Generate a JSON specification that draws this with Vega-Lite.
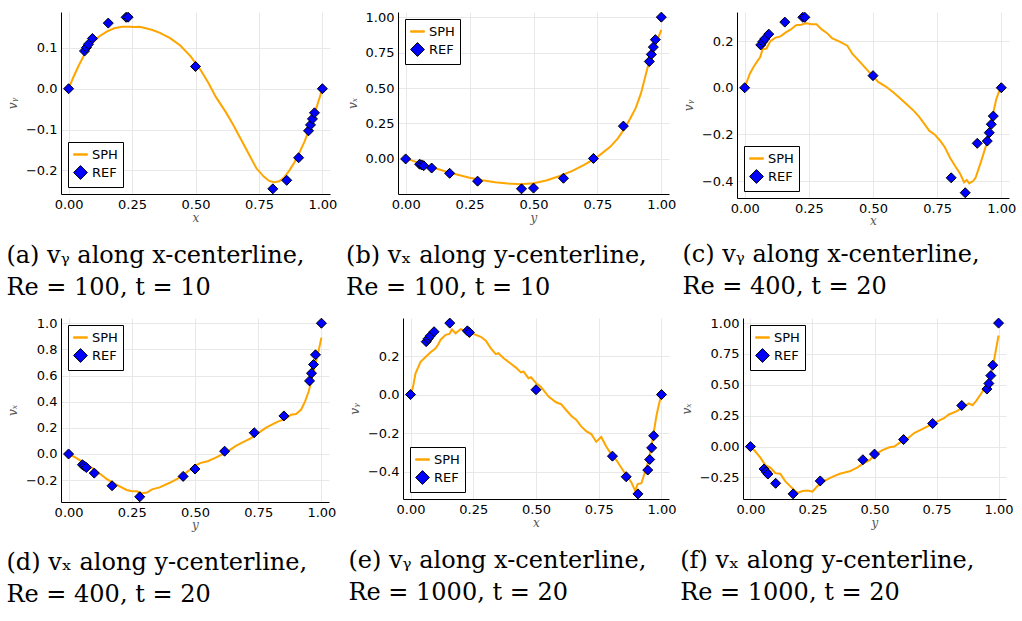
{
"$schema": "https://vega.github.io/schema/vega-lite/v6.json",
"padding": {"left": 6, "top": 10, "right": 5, "bottom": 5},
"autosize": {"type": "pad"},
"background": "white",
"datasets": {
"sph": [
{"p":"a","x":0,"v":0},{"p":"a","x":0.02,"v":0.03},{"p":"a","x":0.04,"v":0.057},{"p":"a","x":0.06,"v":0.081},{"p":"a","x":0.08,"v":0.1},{"p":"a","x":0.1,"v":0.116},{"p":"a","x":0.12,"v":0.128},{"p":"a","x":0.15,"v":0.14},{"p":"a","x":0.18,"v":0.148},{"p":"a","x":0.21,"v":0.152},{"p":"a","x":0.24,"v":0.152},{"p":"a","x":0.26,"v":0.151},{"p":"a","x":0.28,"v":0.152},{"p":"a","x":0.3,"v":0.149},{"p":"a","x":0.33,"v":0.144},{"p":"a","x":0.36,"v":0.137},{"p":"a","x":0.4,"v":0.124},{"p":"a","x":0.44,"v":0.106},{"p":"a","x":0.48,"v":0.08},{"p":"a","x":0.5,"v":0.063},{"p":"a","x":0.52,"v":0.046},{"p":"a","x":0.55,"v":0.015},{"p":"a","x":0.58,"v":-0.02},{"p":"a","x":0.62,"v":-0.058},{"p":"a","x":0.65,"v":-0.09},{"p":"a","x":0.68,"v":-0.125},{"p":"a","x":0.71,"v":-0.16},{"p":"a","x":0.74,"v":-0.195},{"p":"a","x":0.77,"v":-0.216},{"p":"a","x":0.79,"v":-0.226},{"p":"a","x":0.81,"v":-0.229},{"p":"a","x":0.83,"v":-0.227},{"p":"a","x":0.85,"v":-0.217},{"p":"a","x":0.87,"v":-0.2},{"p":"a","x":0.89,"v":-0.18},{"p":"a","x":0.91,"v":-0.156},{"p":"a","x":0.93,"v":-0.129},{"p":"a","x":0.95,"v":-0.096},{"p":"a","x":0.97,"v":-0.06},{"p":"a","x":0.98,"v":-0.04},{"p":"a","x":0.99,"v":-0.02},{"p":"a","x":1,"v":0},
{"p":"b","x":0,"v":0.005},{"p":"b","x":0.02,"v":-0.008},{"p":"b","x":0.05,"v":-0.028},{"p":"b","x":0.08,"v":-0.045},{"p":"b","x":0.1,"v":-0.056},{"p":"b","x":0.15,"v":-0.085},{"p":"b","x":0.2,"v":-0.11},{"p":"b","x":0.25,"v":-0.132},{"p":"b","x":0.3,"v":-0.15},{"p":"b","x":0.35,"v":-0.164},{"p":"b","x":0.4,"v":-0.174},{"p":"b","x":0.45,"v":-0.179},{"p":"b","x":0.5,"v":-0.172},{"p":"b","x":0.55,"v":-0.152},{"p":"b","x":0.6,"v":-0.122},{"p":"b","x":0.65,"v":-0.086},{"p":"b","x":0.7,"v":-0.04},{"p":"b","x":0.75,"v":0.015},{"p":"b","x":0.8,"v":0.085},{"p":"b","x":0.83,"v":0.145},{"p":"b","x":0.86,"v":0.225},{"p":"b","x":0.88,"v":0.29},{"p":"b","x":0.9,"v":0.36},{"p":"b","x":0.92,"v":0.46},{"p":"b","x":0.94,"v":0.6},{"p":"b","x":0.95,"v":0.67},{"p":"b","x":0.96,"v":0.72},{"p":"b","x":0.98,"v":0.82},{"p":"b","x":1,"v":0.91},
{"p":"c","x":0,"v":0},{"p":"c","x":0.01,"v":0.03},{"p":"c","x":0.02,"v":0.06},{"p":"c","x":0.035,"v":0.09},{"p":"c","x":0.05,"v":0.115},{"p":"c","x":0.06,"v":0.13},{"p":"c","x":0.07,"v":0.165},{"p":"c","x":0.085,"v":0.168},{"p":"c","x":0.1,"v":0.2},{"p":"c","x":0.12,"v":0.215},{"p":"c","x":0.14,"v":0.22},{"p":"c","x":0.16,"v":0.237},{"p":"c","x":0.18,"v":0.25},{"p":"c","x":0.2,"v":0.268},{"p":"c","x":0.22,"v":0.27},{"p":"c","x":0.24,"v":0.276},{"p":"c","x":0.26,"v":0.272},{"p":"c","x":0.28,"v":0.272},{"p":"c","x":0.3,"v":0.25},{"p":"c","x":0.32,"v":0.235},{"p":"c","x":0.34,"v":0.213},{"p":"c","x":0.37,"v":0.198},{"p":"c","x":0.4,"v":0.18},{"p":"c","x":0.42,"v":0.145},{"p":"c","x":0.45,"v":0.11},{"p":"c","x":0.47,"v":0.085},{"p":"c","x":0.5,"v":0.05},{"p":"c","x":0.52,"v":0.025},{"p":"c","x":0.55,"v":0.005},{"p":"c","x":0.58,"v":-0.02},{"p":"c","x":0.6,"v":-0.04},{"p":"c","x":0.63,"v":-0.07},{"p":"c","x":0.66,"v":-0.1},{"p":"c","x":0.68,"v":-0.125},{"p":"c","x":0.7,"v":-0.155},{"p":"c","x":0.72,"v":-0.185},{"p":"c","x":0.74,"v":-0.2},{"p":"c","x":0.76,"v":-0.225},{"p":"c","x":0.78,"v":-0.255},{"p":"c","x":0.8,"v":-0.3},{"p":"c","x":0.82,"v":-0.335},{"p":"c","x":0.84,"v":-0.37},{"p":"c","x":0.855,"v":-0.405},{"p":"c","x":0.865,"v":-0.395},{"p":"c","x":0.875,"v":-0.41},{"p":"c","x":0.89,"v":-0.4},{"p":"c","x":0.9,"v":-0.385},{"p":"c","x":0.92,"v":-0.32},{"p":"c","x":0.94,"v":-0.25},{"p":"c","x":0.96,"v":-0.15},{"p":"c","x":0.98,"v":-0.05},{"p":"c","x":0.99,"v":-0.02},{"p":"c","x":1,"v":0},
{"p":"d","x":0,"v":0},{"p":"d","x":0.03,"v":-0.03},{"p":"d","x":0.05,"v":-0.055},{"p":"d","x":0.08,"v":-0.09},{"p":"d","x":0.1,"v":-0.115},{"p":"d","x":0.13,"v":-0.16},{"p":"d","x":0.15,"v":-0.19},{"p":"d","x":0.18,"v":-0.225},{"p":"d","x":0.2,"v":-0.245},{"p":"d","x":0.23,"v":-0.275},{"p":"d","x":0.25,"v":-0.285},{"p":"d","x":0.27,"v":-0.285},{"p":"d","x":0.29,"v":-0.3},{"p":"d","x":0.31,"v":-0.295},{"p":"d","x":0.33,"v":-0.27},{"p":"d","x":0.36,"v":-0.255},{"p":"d","x":0.4,"v":-0.22},{"p":"d","x":0.43,"v":-0.19},{"p":"d","x":0.46,"v":-0.15},{"p":"d","x":0.48,"v":-0.12},{"p":"d","x":0.5,"v":-0.09},{"p":"d","x":0.52,"v":-0.07},{"p":"d","x":0.55,"v":-0.055},{"p":"d","x":0.58,"v":-0.03},{"p":"d","x":0.6,"v":-0.01},{"p":"d","x":0.63,"v":0.02},{"p":"d","x":0.66,"v":0.06},{"p":"d","x":0.69,"v":0.09},{"p":"d","x":0.7,"v":0.1},{"p":"d","x":0.72,"v":0.12},{"p":"d","x":0.75,"v":0.16},{"p":"d","x":0.78,"v":0.2},{"p":"d","x":0.8,"v":0.22},{"p":"d","x":0.83,"v":0.25},{"p":"d","x":0.86,"v":0.27},{"p":"d","x":0.88,"v":0.3},{"p":"d","x":0.9,"v":0.305},{"p":"d","x":0.92,"v":0.34},{"p":"d","x":0.935,"v":0.4},{"p":"d","x":0.95,"v":0.48},{"p":"d","x":0.96,"v":0.56},{"p":"d","x":0.97,"v":0.64},{"p":"d","x":0.98,"v":0.72},{"p":"d","x":0.99,"v":0.8},{"p":"d","x":1,"v":0.89},
{"p":"e","x":0,"v":0},{"p":"e","x":0.01,"v":0.04},{"p":"e","x":0.02,"v":0.11},{"p":"e","x":0.03,"v":0.14},{"p":"e","x":0.04,"v":0.17},{"p":"e","x":0.06,"v":0.195},{"p":"e","x":0.08,"v":0.22},{"p":"e","x":0.1,"v":0.24},{"p":"e","x":0.11,"v":0.26},{"p":"e","x":0.12,"v":0.285},{"p":"e","x":0.14,"v":0.31},{"p":"e","x":0.155,"v":0.315},{"p":"e","x":0.165,"v":0.338},{"p":"e","x":0.18,"v":0.318},{"p":"e","x":0.2,"v":0.34},{"p":"e","x":0.22,"v":0.33},{"p":"e","x":0.24,"v":0.32},{"p":"e","x":0.26,"v":0.31},{"p":"e","x":0.28,"v":0.3},{"p":"e","x":0.3,"v":0.28},{"p":"e","x":0.32,"v":0.24},{"p":"e","x":0.34,"v":0.21},{"p":"e","x":0.35,"v":0.215},{"p":"e","x":0.37,"v":0.19},{"p":"e","x":0.4,"v":0.16},{"p":"e","x":0.42,"v":0.14},{"p":"e","x":0.44,"v":0.115},{"p":"e","x":0.45,"v":0.12},{"p":"e","x":0.47,"v":0.085},{"p":"e","x":0.48,"v":0.09},{"p":"e","x":0.5,"v":0.06},{"p":"e","x":0.52,"v":0.04},{"p":"e","x":0.55,"v":-0.01},{"p":"e","x":0.58,"v":-0.04},{"p":"e","x":0.6,"v":-0.05},{"p":"e","x":0.62,"v":-0.08},{"p":"e","x":0.64,"v":-0.11},{"p":"e","x":0.66,"v":-0.13},{"p":"e","x":0.68,"v":-0.165},{"p":"e","x":0.7,"v":-0.19},{"p":"e","x":0.72,"v":-0.205},{"p":"e","x":0.74,"v":-0.245},{"p":"e","x":0.76,"v":-0.22},{"p":"e","x":0.78,"v":-0.27},{"p":"e","x":0.8,"v":-0.31},{"p":"e","x":0.82,"v":-0.34},{"p":"e","x":0.84,"v":-0.38},{"p":"e","x":0.86,"v":-0.42},{"p":"e","x":0.88,"v":-0.455},{"p":"e","x":0.895,"v":-0.5},{"p":"e","x":0.905,"v":-0.465},{"p":"e","x":0.92,"v":-0.46},{"p":"e","x":0.93,"v":-0.42},{"p":"e","x":0.94,"v":-0.38},{"p":"e","x":0.95,"v":-0.33},{"p":"e","x":0.96,"v":-0.27},{"p":"e","x":0.97,"v":-0.19},{"p":"e","x":0.98,"v":-0.11},{"p":"e","x":0.99,"v":-0.05},{"p":"e","x":1,"v":0},
{"p":"f","x":0,"v":0},{"p":"f","x":0.02,"v":-0.04},{"p":"f","x":0.04,"v":-0.09},{"p":"f","x":0.06,"v":-0.15},{"p":"f","x":0.07,"v":-0.16},{"p":"f","x":0.08,"v":-0.17},{"p":"f","x":0.09,"v":-0.19},{"p":"f","x":0.1,"v":-0.215},{"p":"f","x":0.12,"v":-0.22},{"p":"f","x":0.14,"v":-0.28},{"p":"f","x":0.16,"v":-0.32},{"p":"f","x":0.18,"v":-0.36},{"p":"f","x":0.19,"v":-0.375},{"p":"f","x":0.21,"v":-0.36},{"p":"f","x":0.23,"v":-0.355},{"p":"f","x":0.25,"v":-0.365},{"p":"f","x":0.27,"v":-0.32},{"p":"f","x":0.3,"v":-0.275},{"p":"f","x":0.33,"v":-0.245},{"p":"f","x":0.36,"v":-0.22},{"p":"f","x":0.38,"v":-0.21},{"p":"f","x":0.4,"v":-0.2},{"p":"f","x":0.43,"v":-0.17},{"p":"f","x":0.46,"v":-0.13},{"p":"f","x":0.48,"v":-0.11},{"p":"f","x":0.5,"v":-0.07},{"p":"f","x":0.53,"v":-0.03},{"p":"f","x":0.56,"v":-0.005},{"p":"f","x":0.58,"v":0},{"p":"f","x":0.6,"v":0.03},{"p":"f","x":0.63,"v":0.06},{"p":"f","x":0.66,"v":0.11},{"p":"f","x":0.69,"v":0.14},{"p":"f","x":0.72,"v":0.17},{"p":"f","x":0.75,"v":0.2},{"p":"f","x":0.78,"v":0.23},{"p":"f","x":0.8,"v":0.26},{"p":"f","x":0.83,"v":0.285},{"p":"f","x":0.85,"v":0.31},{"p":"f","x":0.88,"v":0.35},{"p":"f","x":0.895,"v":0.335},{"p":"f","x":0.91,"v":0.37},{"p":"f","x":0.93,"v":0.43},{"p":"f","x":0.95,"v":0.49},{"p":"f","x":0.96,"v":0.53},{"p":"f","x":0.97,"v":0.6},{"p":"f","x":0.98,"v":0.68},{"p":"f","x":0.99,"v":0.79},{"p":"f","x":1,"v":0.9}
],
"ref": [
{"p":"a","s":"REF","x":0,"v":0},{"p":"a","s":"REF","x":0.0625,"v":0.09233},{"p":"a","s":"REF","x":0.0703,"v":0.10091},{"p":"a","s":"REF","x":0.0781,"v":0.1089},{"p":"a","s":"REF","x":0.0938,"v":0.12317},{"p":"a","s":"REF","x":0.1563,"v":0.16077},{"p":"a","s":"REF","x":0.2266,"v":0.17507},{"p":"a","s":"REF","x":0.2344,"v":0.17527},{"p":"a","s":"REF","x":0.5,"v":0.05454},{"p":"a","s":"REF","x":0.8047,"v":-0.24533},{"p":"a","s":"REF","x":0.8594,"v":-0.22445},{"p":"a","s":"REF","x":0.9063,"v":-0.16914},{"p":"a","s":"REF","x":0.9453,"v":-0.10313},{"p":"a","s":"REF","x":0.9531,"v":-0.08864},{"p":"a","s":"REF","x":0.9609,"v":-0.07391},{"p":"a","s":"REF","x":0.9688,"v":-0.05906},{"p":"a","s":"REF","x":1,"v":0},
{"p":"b","s":"REF","x":0,"v":0},{"p":"b","s":"REF","x":0.0547,"v":-0.03717},{"p":"b","s":"REF","x":0.0625,"v":-0.04192},{"p":"b","s":"REF","x":0.0703,"v":-0.04775},{"p":"b","s":"REF","x":0.1016,"v":-0.06434},{"p":"b","s":"REF","x":0.1719,"v":-0.1015},{"p":"b","s":"REF","x":0.2813,"v":-0.15662},{"p":"b","s":"REF","x":0.4531,"v":-0.2109},{"p":"b","s":"REF","x":0.5,"v":-0.20581},{"p":"b","s":"REF","x":0.6172,"v":-0.13641},{"p":"b","s":"REF","x":0.7344,"v":0.00332},{"p":"b","s":"REF","x":0.8516,"v":0.23151},{"p":"b","s":"REF","x":0.9531,"v":0.68717},{"p":"b","s":"REF","x":0.9609,"v":0.73722},{"p":"b","s":"REF","x":0.9688,"v":0.78871},{"p":"b","s":"REF","x":0.9766,"v":0.84123},{"p":"b","s":"REF","x":1,"v":1},
{"p":"c","s":"REF","x":0,"v":0},{"p":"c","s":"REF","x":0.0625,"v":0.1836},{"p":"c","s":"REF","x":0.0703,"v":0.19713},{"p":"c","s":"REF","x":0.0781,"v":0.2092},{"p":"c","s":"REF","x":0.0938,"v":0.22965},{"p":"c","s":"REF","x":0.1563,"v":0.28124},{"p":"c","s":"REF","x":0.2266,"v":0.30203},{"p":"c","s":"REF","x":0.2344,"v":0.30174},{"p":"c","s":"REF","x":0.5,"v":0.05186},{"p":"c","s":"REF","x":0.8047,"v":-0.38598},{"p":"c","s":"REF","x":0.8594,"v":-0.44993},{"p":"c","s":"REF","x":0.9063,"v":-0.23827},{"p":"c","s":"REF","x":0.9453,"v":-0.22847},{"p":"c","s":"REF","x":0.9531,"v":-0.19254},{"p":"c","s":"REF","x":0.9609,"v":-0.15663},{"p":"c","s":"REF","x":0.9688,"v":-0.12146},{"p":"c","s":"REF","x":1,"v":0},
{"p":"d","s":"REF","x":0,"v":0},{"p":"d","s":"REF","x":0.0547,"v":-0.08186},{"p":"d","s":"REF","x":0.0625,"v":-0.09266},{"p":"d","s":"REF","x":0.0703,"v":-0.10338},{"p":"d","s":"REF","x":0.1016,"v":-0.14612},{"p":"d","s":"REF","x":0.1719,"v":-0.24299},{"p":"d","s":"REF","x":0.2813,"v":-0.32726},{"p":"d","s":"REF","x":0.4531,"v":-0.17119},{"p":"d","s":"REF","x":0.5,"v":-0.11477},{"p":"d","s":"REF","x":0.6172,"v":0.02135},{"p":"d","s":"REF","x":0.7344,"v":0.16256},{"p":"d","s":"REF","x":0.8516,"v":0.29093},{"p":"d","s":"REF","x":0.9531,"v":0.55892},{"p":"d","s":"REF","x":0.9609,"v":0.61756},{"p":"d","s":"REF","x":0.9688,"v":0.68439},{"p":"d","s":"REF","x":0.9766,"v":0.75837},{"p":"d","s":"REF","x":1,"v":1},
{"p":"e","s":"REF","x":0,"v":0},{"p":"e","s":"REF","x":0.0625,"v":0.27485},{"p":"e","s":"REF","x":0.0703,"v":0.29012},{"p":"e","s":"REF","x":0.0781,"v":0.30353},{"p":"e","s":"REF","x":0.0938,"v":0.32627},{"p":"e","s":"REF","x":0.1563,"v":0.37095},{"p":"e","s":"REF","x":0.2266,"v":0.33075},{"p":"e","s":"REF","x":0.2344,"v":0.32235},{"p":"e","s":"REF","x":0.5,"v":0.02526},{"p":"e","s":"REF","x":0.8047,"v":-0.31966},{"p":"e","s":"REF","x":0.8594,"v":-0.42665},{"p":"e","s":"REF","x":0.9063,"v":-0.5155},{"p":"e","s":"REF","x":0.9453,"v":-0.39188},{"p":"e","s":"REF","x":0.9531,"v":-0.33714},{"p":"e","s":"REF","x":0.9609,"v":-0.27669},{"p":"e","s":"REF","x":0.9688,"v":-0.21388},{"p":"e","s":"REF","x":1,"v":0},
{"p":"f","s":"REF","x":0,"v":0},{"p":"f","s":"REF","x":0.0547,"v":-0.18109},{"p":"f","s":"REF","x":0.0625,"v":-0.20196},{"p":"f","s":"REF","x":0.0703,"v":-0.2222},{"p":"f","s":"REF","x":0.1016,"v":-0.2973},{"p":"f","s":"REF","x":0.1719,"v":-0.38289},{"p":"f","s":"REF","x":0.2813,"v":-0.27805},{"p":"f","s":"REF","x":0.4531,"v":-0.10648},{"p":"f","s":"REF","x":0.5,"v":-0.0608},{"p":"f","s":"REF","x":0.6172,"v":0.05702},{"p":"f","s":"REF","x":0.7344,"v":0.18719},{"p":"f","s":"REF","x":0.8516,"v":0.33304},{"p":"f","s":"REF","x":0.9531,"v":0.46604},{"p":"f","s":"REF","x":0.9609,"v":0.51117},{"p":"f","s":"REF","x":0.9688,"v":0.57492},{"p":"f","s":"REF","x":0.9766,"v":0.65928},{"p":"f","s":"REF","x":1,"v":1}
]
},
"config": {
"view": {"stroke": null},
"axis": {"domainColor": "#000000", "domainWidth": 1, "ticks": false, "tickCount": 12, "gridColor": "#e8e8e8", "gridWidth": 1, "labelFont": "DejaVu Sans", "labelFontSize": 13, "labelColor": "#000000", "labelPadding": 4, "labelOverlap": false, "titleFont": "DejaVu Serif", "titleFontStyle": "italic", "titleFontWeight": "normal", "titleFontSize": 12, "titleColor": "#555555"},
"axisX": {"titlePadding": 1},
"axisY": {"titlePadding": 6},
"legend": {"strokeColor": "#000000", "fillColor": "#ffffff", "padding": 5, "labelFont": "DejaVu Sans", "labelFontSize": 13, "labelColor": "#000000", "symbolSize": 190, "symbolStrokeWidth": 1, "rowPadding": 1, "labelOffset": 4, "offset": 7, "cornerRadius": 0},
"line": {"strokeWidth": 2, "color": "#FFA500"},
"point": {"filled": true, "strokeWidth": 1, "size": 100, "opacity": 1},
"title": {"orient": "bottom", "anchor": "start", "frame": "bounds", "font": "DejaVu Serif", "fontSize": 24, "fontWeight": "normal", "color": "#000000", "lineHeight": 32, "offset": 21}
},
"spacing": 16,
"resolve": {"scale": {"x": "independent", "y": "independent", "color": "independent", "shape": "independent", "stroke": "independent"}, "legend": {"color": "independent", "shape": "independent", "stroke": "independent"}},
"vconcat": [
{"hconcat": [
{"width": 269, "height": 182,
 "title": {"text": ["(a) vᵧ along x-centerline,", "Re = 100, t = 10"]},
 "layer": [
  {"data": {"name": "sph"}, "transform": [{"filter": "datum.p == 'a'"}], "mark": {"type": "line"},
   "encoding": {"x": {"field": "x", "type": "quantitative", "scale": {"domain": [-0.03, 1.03], "nice": false, "zero": false}, "axis": {"values": [0, 0.25, 0.5, 0.75, 1], "format": ".2f", "title": "x"}},
    "y": {"field": "v", "type": "quantitative", "scale": {"domain": [-0.258, 0.188], "nice": false, "zero": false}, "axis": {"values": [-0.2, -0.1, 0, 0.1], "format": ".1f", "title": "vᵧ"}}}},
  {"data": {"name": "ref"}, "transform": [{"filter": "datum.p == 'a'"}], "mark": {"type": "point"},
   "encoding": {"x": {"field": "x", "type": "quantitative"}, "y": {"field": "v", "type": "quantitative"},
    "color": {"field": "s", "type": "nominal", "scale": {"domain": ["SPH", "REF"], "range": ["#FFA500", "#0000FF"]}, "legend": {"title": null, "orient": "bottom-left"}},
    "shape": {"field": "s", "type": "nominal", "scale": {"domain": ["SPH", "REF"], "range": ["M-1,-0.1H1V0.1H-1Z", "diamond"]}, "legend": {"title": null, "orient": "bottom-left"}},
    "stroke": {"field": "s", "type": "nominal", "scale": {"domain": ["SPH", "REF"], "range": ["#FFA500", "#000000"]}, "legend": {"title": null, "orient": "bottom-left"}}}}
 ]},
{"width": 271, "height": 182,
 "title": {"text": ["(b) vₓ along y-centerline,", "Re = 100, t = 10"]},
 "layer": [
  {"data": {"name": "sph"}, "transform": [{"filter": "datum.p == 'b'"}], "mark": {"type": "line"},
   "encoding": {"x": {"field": "x", "type": "quantitative", "scale": {"domain": [-0.03, 1.03], "nice": false, "zero": false}, "axis": {"values": [0, 0.25, 0.5, 0.75, 1], "format": ".2f", "title": "y"}},
    "y": {"field": "v", "type": "quantitative", "scale": {"domain": [-0.2473, 1.0363], "nice": false, "zero": false}, "axis": {"values": [0, 0.25, 0.5, 0.75, 1], "format": ".2f", "title": "vₓ"}}}},
  {"data": {"name": "ref"}, "transform": [{"filter": "datum.p == 'b'"}], "mark": {"type": "point"},
   "encoding": {"x": {"field": "x", "type": "quantitative"}, "y": {"field": "v", "type": "quantitative"},
    "color": {"field": "s", "type": "nominal", "scale": {"domain": ["SPH", "REF"], "range": ["#FFA500", "#0000FF"]}, "legend": {"title": null, "orient": "top-left"}},
    "shape": {"field": "s", "type": "nominal", "scale": {"domain": ["SPH", "REF"], "range": ["M-1,-0.1H1V0.1H-1Z", "diamond"]}, "legend": {"title": null, "orient": "top-left"}},
    "stroke": {"field": "s", "type": "nominal", "scale": {"domain": ["SPH", "REF"], "range": ["#FFA500", "#000000"]}, "legend": {"title": null, "orient": "top-left"}}}}
 ]},
{"width": 272, "height": 186,
 "title": {"text": ["(c) vᵧ along x-centerline,", "Re = 400, t = 20"], "offset": 17},
 "layer": [
  {"data": {"name": "sph"}, "transform": [{"filter": "datum.p == 'c'"}], "mark": {"type": "line"},
   "encoding": {"x": {"field": "x", "type": "quantitative", "scale": {"domain": [-0.03, 1.03], "nice": false, "zero": false}, "axis": {"values": [0, 0.25, 0.5, 0.75, 1], "format": ".2f", "title": "x", "titlePadding": 0}},
    "y": {"field": "v", "type": "quantitative", "scale": {"domain": [-0.4725, 0.3246], "nice": false, "zero": false}, "axis": {"values": [-0.4, -0.2, 0, 0.2], "format": ".1f", "title": "vᵧ"}}}},
  {"data": {"name": "ref"}, "transform": [{"filter": "datum.p == 'c'"}], "mark": {"type": "point"},
   "encoding": {"x": {"field": "x", "type": "quantitative"}, "y": {"field": "v", "type": "quantitative"},
    "color": {"field": "s", "type": "nominal", "scale": {"domain": ["SPH", "REF"], "range": ["#FFA500", "#0000FF"]}, "legend": {"title": null, "orient": "bottom-left"}},
    "shape": {"field": "s", "type": "nominal", "scale": {"domain": ["SPH", "REF"], "range": ["M-1,-0.1H1V0.1H-1Z", "diamond"]}, "legend": {"title": null, "orient": "bottom-left"}},
    "stroke": {"field": "s", "type": "nominal", "scale": {"domain": ["SPH", "REF"], "range": ["#FFA500", "#000000"]}, "legend": {"title": null, "orient": "bottom-left"}}}}
 ]}
], "spacing": 68, "bounds": "flush",
 "resolve": {"scale": {"x": "independent", "y": "independent", "color": "independent", "shape": "independent", "stroke": "independent"}, "legend": {"color": "independent", "shape": "independent", "stroke": "independent"}}},
{"hconcat": [
{"width": 268, "height": 184,
 "title": {"text": ["(d) vₓ along y-centerline,", "Re = 400, t = 20"]},
 "layer": [
  {"data": {"name": "sph"}, "transform": [{"filter": "datum.p == 'd'"}], "mark": {"type": "line"},
   "encoding": {"x": {"field": "x", "type": "quantitative", "scale": {"domain": [-0.03, 1.03], "nice": false, "zero": false}, "axis": {"values": [0, 0.25, 0.5, 0.75, 1], "format": ".2f", "title": "y", "titlePadding": 0}},
    "y": {"field": "v", "type": "quantitative", "scale": {"domain": [-0.367, 1.0398], "nice": false, "zero": false}, "axis": {"values": [-0.2, 0, 0.2, 0.4, 0.6, 0.8, 1], "format": ".1f", "title": "vₓ"}}}},
  {"data": {"name": "ref"}, "transform": [{"filter": "datum.p == 'd'"}], "mark": {"type": "point"},
   "encoding": {"x": {"field": "x", "type": "quantitative"}, "y": {"field": "v", "type": "quantitative"},
    "color": {"field": "s", "type": "nominal", "scale": {"domain": ["SPH", "REF"], "range": ["#FFA500", "#0000FF"]}, "legend": {"title": null, "orient": "top-left"}},
    "shape": {"field": "s", "type": "nominal", "scale": {"domain": ["SPH", "REF"], "range": ["M-1,-0.1H1V0.1H-1Z", "diamond"]}, "legend": {"title": null, "orient": "top-left"}},
    "stroke": {"field": "s", "type": "nominal", "scale": {"domain": ["SPH", "REF"], "range": ["#FFA500", "#000000"]}, "legend": {"title": null, "orient": "top-left"}}}}
 ]},
{"width": 266, "height": 181,
 "title": {"text": ["(e) vᵧ along x-centerline,", "Re = 1000, t = 20"]},
 "layer": [
  {"data": {"name": "sph"}, "transform": [{"filter": "datum.p == 'e'"}], "mark": {"type": "line"},
   "encoding": {"x": {"field": "x", "type": "quantitative", "scale": {"domain": [-0.03, 1.03], "nice": false, "zero": false}, "axis": {"values": [0, 0.25, 0.5, 0.75, 1], "format": ".2f", "title": "x"}},
    "y": {"field": "v", "type": "quantitative", "scale": {"domain": [-0.5421, 0.3975], "nice": false, "zero": false}, "axis": {"values": [-0.4, -0.2, 0, 0.2], "format": ".1f", "title": "vᵧ"}}}},
  {"data": {"name": "ref"}, "transform": [{"filter": "datum.p == 'e'"}], "mark": {"type": "point"},
   "encoding": {"x": {"field": "x", "type": "quantitative"}, "y": {"field": "v", "type": "quantitative"},
    "color": {"field": "s", "type": "nominal", "scale": {"domain": ["SPH", "REF"], "range": ["#FFA500", "#0000FF"]}, "legend": {"title": null, "orient": "bottom-left"}},
    "shape": {"field": "s", "type": "nominal", "scale": {"domain": ["SPH", "REF"], "range": ["M-1,-0.1H1V0.1H-1Z", "diamond"]}, "legend": {"title": null, "orient": "bottom-left"}},
    "stroke": {"field": "s", "type": "nominal", "scale": {"domain": ["SPH", "REF"], "range": ["#FFA500", "#000000"]}, "legend": {"title": null, "orient": "bottom-left"}}}}
 ]},
{"width": 263, "height": 181,
 "title": {"text": ["(f) vₓ along y-centerline,", "Re = 1000, t = 20"]},
 "layer": [
  {"data": {"name": "sph"}, "transform": [{"filter": "datum.p == 'f'"}], "mark": {"type": "line"},
   "encoding": {"x": {"field": "x", "type": "quantitative", "scale": {"domain": [-0.03, 1.03], "nice": false, "zero": false}, "axis": {"values": [0, 0.25, 0.5, 0.75, 1], "format": ".2f", "title": "y"}},
    "y": {"field": "v", "type": "quantitative", "scale": {"domain": [-0.4244, 1.0415], "nice": false, "zero": false}, "axis": {"values": [-0.25, 0, 0.25, 0.5, 0.75, 1], "format": ".2f", "title": "vₓ"}}}},
  {"data": {"name": "ref"}, "transform": [{"filter": "datum.p == 'f'"}], "mark": {"type": "point"},
   "encoding": {"x": {"field": "x", "type": "quantitative"}, "y": {"field": "v", "type": "quantitative"},
    "color": {"field": "s", "type": "nominal", "scale": {"domain": ["SPH", "REF"], "range": ["#FFA500", "#0000FF"]}, "legend": {"title": null, "orient": "top-left"}},
    "shape": {"field": "s", "type": "nominal", "scale": {"domain": ["SPH", "REF"], "range": ["M-1,-0.1H1V0.1H-1Z", "diamond"]}, "legend": {"title": null, "orient": "top-left"}},
    "stroke": {"field": "s", "type": "nominal", "scale": {"domain": ["SPH", "REF"], "range": ["#FFA500", "#000000"]}, "legend": {"title": null, "orient": "top-left"}}}}
 ]}
], "spacing": 74, "bounds": "flush",
 "resolve": {"scale": {"x": "independent", "y": "independent", "color": "independent", "shape": "independent", "stroke": "independent"}, "legend": {"color": "independent", "shape": "independent", "stroke": "independent"}}}
]
}
